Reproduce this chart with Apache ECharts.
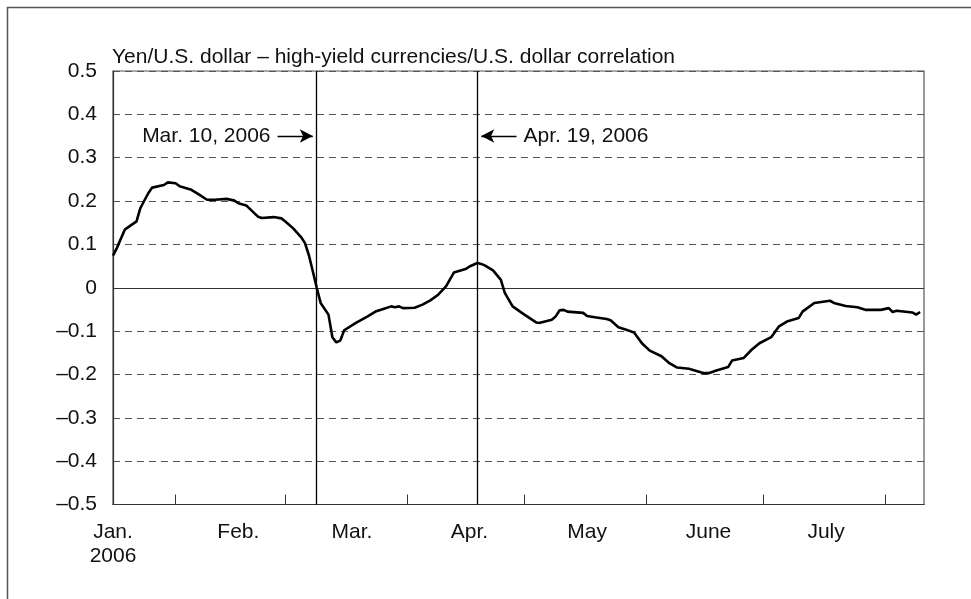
<!DOCTYPE html>
<html>
<head>
<meta charset="utf-8">
<script src="https://cdn.jsdelivr.net/npm/echarts@6/dist/echarts.min.js"></script>
<style>
  html, body { margin: 0; padding: 0; background: #fff; }
  #chart { width: 971px; height: 599px; }
</style>
</head>
<body>
<div id="chart"></div>
<script>
// axis runs day by day from mid-January to mid-August 2006
const firstDay = "2006-01-16";
const lastDay = "2006-08-11";

// month labels and where they sit
const labelDates = ["2006-01-16", "2006-02-17", "2006-03-18", "2006-04-17", "2006-05-17", "2006-06-17", "2006-07-17"];
const labelTexts = ["Jan.\n2006", "Feb.", "Mar.", "Apr.", "May", "June", "July"];

// yen/US$ vs high-yield currencies/US$ correlation
const pointDates = [
  "2006-01-16", "2006-01-17", "2006-01-19", "2006-01-22", "2006-01-23", "2006-01-25", "2006-01-26", "2006-01-29",
  "2006-01-30", "2006-02-01", "2006-02-02", "2006-02-05", "2006-02-07", "2006-02-09", "2006-02-11", "2006-02-14",
  "2006-02-16", "2006-02-17", "2006-02-19", "2006-02-22", "2006-02-23", "2006-02-26", "2006-02-28", "2006-03-01",
  "2006-03-03", "2006-03-05", "2006-03-06", "2006-03-07", "2006-03-08", "2006-03-09", "2006-03-10", "2006-03-12",
  "2006-03-13", "2006-03-14", "2006-03-15", "2006-03-16", "2006-03-19", "2006-03-22", "2006-03-24", "2006-03-26",
  "2006-03-28", "2006-03-29", "2006-03-30", "2006-03-31", "2006-04-03", "2006-04-05", "2006-04-07", "2006-04-09",
  "2006-04-11", "2006-04-13", "2006-04-16", "2006-04-17", "2006-04-19", "2006-04-20", "2006-04-21", "2006-04-23",
  "2006-04-25", "2006-04-26", "2006-04-28", "2006-05-01", "2006-05-04", "2006-05-05", "2006-05-08", "2006-05-09",
  "2006-05-10", "2006-05-11", "2006-05-12", "2006-05-16", "2006-05-17", "2006-05-19", "2006-05-22", "2006-05-23",
  "2006-05-25", "2006-05-27", "2006-05-29", "2006-05-31", "2006-06-02", "2006-06-05", "2006-06-07", "2006-06-09",
  "2006-06-12", "2006-06-15", "2006-06-16", "2006-06-17", "2006-06-19", "2006-06-22", "2006-06-23", "2006-06-26",
  "2006-06-28", "2006-06-30", "2006-07-03", "2006-07-05", "2006-07-07", "2006-07-10", "2006-07-11", "2006-07-14",
  "2006-07-18", "2006-07-19", "2006-07-22", "2006-07-25", "2006-07-27", "2006-07-31", "2006-08-02", "2006-08-03",
  "2006-08-04", "2006-08-08", "2006-08-09", "2006-08-10"
];
const correlation = [
  0.074, 0.092, 0.134, 0.153, 0.184, 0.218, 0.231, 0.237,
  0.243, 0.241, 0.234, 0.226, 0.215, 0.203, 0.203, 0.205,
  0.201, 0.195, 0.190, 0.164, 0.161, 0.163, 0.160, 0.153,
  0.137, 0.117, 0.103, 0.075, 0.038, 0.000, -0.035, -0.062,
  -0.114, -0.126, -0.122, -0.098, -0.081, -0.066, -0.055, -0.049,
  -0.043, -0.045, -0.043, -0.047, -0.046, -0.039, -0.029, -0.016,
  0.003, 0.035, 0.043, 0.049, 0.057, 0.055, 0.051, 0.040,
  0.018, -0.012, -0.043, -0.062, -0.080, -0.081, -0.074, -0.066,
  -0.052, -0.051, -0.055, -0.058, -0.065, -0.068, -0.072, -0.075,
  -0.091, -0.097, -0.103, -0.128, -0.145, -0.158, -0.174, -0.184,
  -0.187, -0.195, -0.197, -0.197, -0.191, -0.183, -0.168, -0.162,
  -0.143, -0.128, -0.114, -0.089, -0.078, -0.070, -0.055, -0.035,
  -0.030, -0.035, -0.042, -0.045, -0.051, -0.051, -0.047, -0.056,
  -0.053, -0.057, -0.062, -0.056
];

// event markers
const eventDates = ["2006-03-09", "2006-04-19"];
const eventTexts = ["Mar. 10, 2006", "Apr. 19, 2006"];

const days = [];
for (let t = Date.parse(firstDay); t <= Date.parse(lastDay); t += 86400000) {
  days.push(new Date(t).toISOString().slice(0, 10));
}

const font = "'Liberation Sans', Arial, Helvetica, sans-serif";
const chart = echarts.init(document.getElementById("chart"));

chart.setOption({
  animation: false,
  backgroundColor: "#fff",
  textStyle: { fontFamily: font },
  title: {
    text: "Yen/U.S. dollar \u2013 high-yield currencies/U.S. dollar correlation",
    left: 112,
    top: 47,
    padding: 0,
    textStyle: { fontSize: 21, fontWeight: "normal", color: "#111", fontFamily: font }
  },
  graphic: [
    {
      type: "rect",
      left: 5,
      top: 5,
      shape: { width: 1200, height: 1200 },
      style: { fill: null, stroke: "#555", lineWidth: 1.5 },
      silent: true
    }
  ],
  grid: {
    left: 113,
    right: 47,
    top: 71,
    bottom: 94.5,
    show: true,
    borderColor: "#555",
    borderWidth: 1.2
  },
  xAxis: {
    type: "category",
    data: days,
    boundaryGap: false,
    axisLine: { onZero: false, lineStyle: { color: "#333", width: 1.2 } },
    axisTick: {
      inside: true,
      length: 10,
      interval: (i, v) => i > 0 && v.slice(8) === "01",
      lineStyle: { color: "#333" }
    },
    axisLabel: {
      interval: (i, v) => labelDates.indexOf(v) >= 0,
      formatter: v => labelTexts[labelDates.indexOf(v)],
      fontSize: 21,
      lineHeight: 24,
      color: "#111",
      margin: 16
    },
    splitLine: { show: false }
  },
  yAxis: {
    type: "value",
    min: -0.5,
    max: 0.5,
    interval: 0.1,
    axisLine: { show: true, onZero: false, lineStyle: { color: "#333", width: 1.2 } },
    axisTick: { show: false },
    axisLabel: {
      fontSize: 21,
      color: "#111",
      margin: 16,
      formatter: v => {
        const r = Math.round(v * 10) / 10;
        if (r === 0) return "0";
        return (r < 0 ? "\u2013" : "") + Math.abs(r).toFixed(1);
      }
    },
    splitLine: { lineStyle: { color: "#555", type: [7, 5], width: 1 } }
  },
  series: [
    {
      type: "line",
      data: pointDates.map((d, i) => [d, correlation[i]]),
      symbol: "none",
      lineStyle: { color: "#000", width: 2.6 },
      z: 5,
      markLine: {
        silent: true,
        symbol: "none",
        animation: false,
        label: { show: false },
        lineStyle: { color: "#000", type: "solid", width: 1.3 },
        data: [
          { yAxis: 0, lineStyle: { color: "#333", width: 1.2 } },
          { xAxis: eventDates[0] },
          { xAxis: eventDates[1] },
          [
            { coord: ["2006-02-27", 0.35], symbol: "none" },
            {
              coord: ["2006-03-08", 0.35], symbol: "arrow", symbolSize: [10, 13],
              label: { show: true, position: "start", distance: 7, formatter: eventTexts[0], fontSize: 21, color: "#111" }
            }
          ],
          [
            { coord: ["2006-04-29", 0.35], symbol: "none" },
            {
              coord: ["2006-04-20", 0.35], symbol: "arrow", symbolSize: [10, 13],
              label: { show: true, position: "start", distance: 7, formatter: eventTexts[1], fontSize: 21, color: "#111" }
            }
          ]
        ]
      }
    }
  ]
});
</script>
</body>
</html>
